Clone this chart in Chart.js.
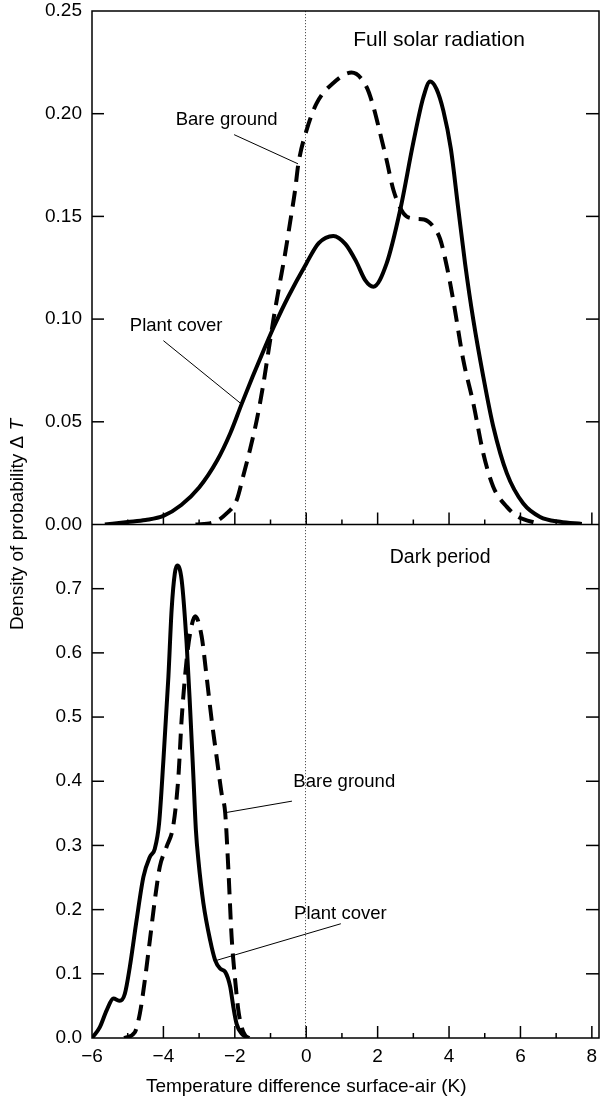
<!DOCTYPE html>
<html>
<head>
<meta charset="utf-8">
<script src="https://cdn.jsdelivr.net/npm/chart.js@4.4.1/dist/chart.umd.min.js"></script>
<style>
  html, body { margin: 0; padding: 0; background: #fff; }
  #wrap { width: 600px; height: 1102px; }
</style>
</head>
<body>
<div id="wrap"><canvas id="chart" width="600" height="1102"></canvas></div>
<script>
// Probability density of the surface-air temperature difference (K)

// Full solar radiation: plant cover
const solarPlantT = [-5.64, -5.0, -4.5, -4.0, -3.5, -3.0, -2.5, -2.13, -1.81, -1.5,
  -1.2, -0.9, -0.5, 0, 0.35, 0.76, 1.1, 1.4, 1.65, 1.88,
  2.25, 2.63, 3.0, 3.28, 3.47, 3.65, 3.84, 4.05, 4.25, 4.45,
  4.68, 4.96, 5.24, 5.62, 6.08, 6.55, 7.11, 7.72];
const solarPlantP = [0, 0.0012, 0.0022, 0.0042, 0.0095, 0.018, 0.031, 0.0443, 0.0586, 0.072,
  0.0845, 0.0965, 0.111, 0.127, 0.137, 0.1405, 0.1365, 0.128, 0.119, 0.1158,
  0.127, 0.153, 0.186, 0.208, 0.2157, 0.212, 0.2015, 0.183, 0.155, 0.127,
  0.0996, 0.0719, 0.0476, 0.0249, 0.0102, 0.0037, 0.0013, 0.0003];

// Full solar radiation: bare ground
const solarBareT = [-3.1, -2.6, -2.23, -1.95, -1.77, -1.57, -1.38, -1.21, -1.07, -0.93,
  -0.76, -0.59, -0.45, -0.31, -0.22, 0.01, 0.29, 0.76, 1.27, 1.69,
  1.88, 2.07, 2.25, 2.44, 2.72, 3.0, 3.3, 3.56, 3.75, 3.94,
  4.12, 4.40, 4.68, 4.96, 5.24, 5.62, 5.94, 6.5];
const solarBareP = [0, 0.001, 0.0054, 0.0118, 0.0232, 0.0368, 0.0513, 0.0674, 0.083, 0.0986,
  0.1156, 0.132, 0.1473, 0.163, 0.1756, 0.192, 0.205, 0.215, 0.220, 0.213,
  0.2035, 0.1905, 0.1775, 0.163, 0.1516, 0.149, 0.1485, 0.145, 0.139, 0.1255,
  0.109, 0.080, 0.059, 0.0346, 0.0183, 0.0086, 0.0037, 0.0005];

// Dark period: plant cover
const darkPlantT = [-6.0, -5.78, -5.59, -5.40, -5.22, -5.08, -4.94, -4.75, -4.56, -4.38,
  -4.24, -4.12, -4.0, -3.86, -3.77, -3.68, -3.61, -3.49, -3.35, -3.25,
  -3.16, -3.09, -3.02, -2.88, -2.69, -2.55, -2.41, -2.27, -2.13, -2.04,
  -1.95, -1.81, -1.67];
const darkPlantP = [0, 0.017, 0.043, 0.0615, 0.058, 0.069, 0.111, 0.184, 0.251, 0.282,
  0.295, 0.335, 0.433, 0.563, 0.667, 0.724, 0.736, 0.714, 0.615, 0.511,
  0.407, 0.324, 0.277, 0.21, 0.152, 0.121, 0.108, 0.103, 0.080, 0.048,
  0.022, 0.007, 0.001];

// Dark period: bare ground
const darkBareT = [-5.1, -4.8, -4.66, -4.52, -4.38, -4.24, -4.10, -3.91, -3.72, -3.58,
  -3.49, -3.35, -3.25, -3.11, -2.93, -2.79, -2.65, -2.51, -2.37, -2.27,
  -2.18, -2.09, -1.99, -1.90, -1.81, -1.71, -1.6];
const darkBareP = [0, 0.009, 0.038, 0.09, 0.152, 0.215, 0.267, 0.298, 0.332, 0.407,
  0.496, 0.589, 0.631, 0.657, 0.626, 0.563, 0.496, 0.438, 0.381, 0.351,
  0.262, 0.158, 0.09, 0.043, 0.017, 0.004, 0];

// Axis ticks
const xTickValues = [-6, -4, -2, 0, 2, 4, 6, 8];
const xTickLabels = ['\u22126', '\u22124', '\u22122', '0', '2', '4', '6', '8'];
const xMinorTickValues = [-5, -3, -1, 1, 3, 5, 7];
const topTickValues = [0, 0.05, 0.10, 0.15, 0.20, 0.25];
const topTickLabels = ['0.00', '0.05', '0.10', '0.15', '0.20', '0.25'];
const bottomTickValues = [0, 0.1, 0.2, 0.3, 0.4, 0.5, 0.6, 0.7];
const bottomTickLabels = ['0.0', '0.1', '0.2', '0.3', '0.4', '0.5', '0.6', '0.7'];

// Text
const panelTitles = ['Full solar radiation', 'Dark period'];
const seriesNames = ['Plant cover', 'Bare ground'];
const xTitle = 'Temperature difference surface-air (K)';
const yTitle = 'Density of probability \u0394';
const yTitleSymbol = 'T';

const FONT = '"Liberation Sans", Arial, Helvetica, sans-serif';

const pairs = (xs, ys) => xs.map((x, i) => ({ x, y: ys[i] }));

// Callouts, anchored in data coordinates of each panel
const callouts = [
  { axis: 'yTop', text: seriesNames[1], at: [-3.655, 0.1972], from: [-2.02, 0.1898], to: [-0.23, 0.1756] },
  { axis: 'yTop', text: seriesNames[0], at: [-4.94, 0.0965], from: [-4.00, 0.0895], to: [-1.81, 0.0586] },
  { axis: 'yBottom', text: seriesNames[1], at: [-0.36, 0.3994], from: [-0.40, 0.369], to: [-2.27, 0.351] },
  { axis: 'yBottom', text: seriesNames[0], at: [-0.34, 0.194], from: [0.97, 0.178], to: [-2.57, 0.120] }
];
const titles = [
  { axis: 'yTop', text: panelTitles[0], at: [3.72, 0.2356], size: 21 },
  { axis: 'yBottom', text: panelTitles[1], at: [3.75, 0.748], size: 19.5 }
];

const figurePlugin = {
  id: 'figureFrame',
  beforeDatasetsDraw(chart) {
    const { ctx, chartArea: a, scales } = chart;
    const x = scales.x;
    const panels = [[scales.yTop, topTickValues], [scales.yBottom, bottomTickValues]];
    const seg = (x1, y1, x2, y2) => { ctx.beginPath(); ctx.moveTo(x1, y1); ctx.lineTo(x2, y2); ctx.stroke(); };
    ctx.save();
    // dotted zero line through both panels
    const x0 = Math.round(x.getPixelForValue(0)) - 0.5;
    ctx.strokeStyle = '#555';
    ctx.lineWidth = 1;
    ctx.setLineDash([1.2, 1.8]);
    seg(x0, a.top, x0, a.bottom);
    ctx.setLineDash([]);
    // frame, panel divider and inward ticks
    ctx.strokeStyle = '#000';
    ctx.lineWidth = 1.5;
    ctx.strokeRect(a.left, a.top, a.right - a.left, a.bottom - a.top);
    seg(a.left, scales.yTop.bottom, a.right, scales.yTop.bottom);
    for (const [scale, values] of panels) {
      for (const v of values) {
        const py = scale.getPixelForValue(v);
        if (py <= scale.top + 1 || py >= scale.bottom - 1) continue;
        seg(a.left, py, a.left + 12, py);
        seg(a.right - 13, py, a.right, py);
      }
      for (const v of xTickValues) {
        const px = x.getPixelForValue(v);
        if (px <= a.left + 1 || px >= a.right - 1) continue;
        seg(px, scale.bottom, px, scale.bottom - 12);
      }
      for (const v of xMinorTickValues) {
        const px = x.getPixelForValue(v);
        seg(px, scale.bottom, px, scale.bottom - 5);
      }
    }
    ctx.restore();
  },
  afterDatasetsDraw(chart) {
    const { ctx, chartArea: a, scales } = chart;
    const x = scales.x;
    const pt = (axis, p) => [x.getPixelForValue(p[0]), scales[axis].getPixelForValue(p[1])];
    ctx.save();
    ctx.fillStyle = '#000';
    ctx.strokeStyle = '#000';
    // callouts with leader lines
    ctx.lineWidth = 1;
    ctx.font = '18.5px ' + FONT;
    ctx.textAlign = 'left';
    ctx.textBaseline = 'middle';
    for (const c of callouts) {
      const [tx, ty] = pt(c.axis, c.at);
      ctx.fillText(c.text, tx, ty);
      const [x1, y1] = pt(c.axis, c.from);
      const [x2, y2] = pt(c.axis, c.to);
      ctx.beginPath(); ctx.moveTo(x1, y1); ctx.lineTo(x2, y2); ctx.stroke();
    }
    // panel titles
    ctx.textAlign = 'center';
    for (const t of titles) {
      ctx.font = t.size + 'px ' + FONT;
      const [tx, ty] = pt(t.axis, t.at);
      ctx.fillText(t.text, tx, ty);
    }
    // x axis title, centred under the zero line
    ctx.font = '19px ' + FONT;
    ctx.fillText(xTitle, x.getPixelForValue(0), 1087);
    // y axis title spanning both panels
    ctx.translate(18, (a.top + a.bottom) / 2);
    ctx.rotate(-Math.PI / 2);
    const plain = '19px ' + FONT;
    const italic = 'italic 19px ' + FONT;
    ctx.font = plain;
    const w1 = ctx.measureText(yTitle + ' ').width;
    ctx.font = italic;
    const w2 = ctx.measureText(yTitleSymbol).width;
    const sx = -(w1 + w2) / 2;
    ctx.textAlign = 'left';
    ctx.font = plain;
    ctx.fillText(yTitle + ' ', sx, 0);
    ctx.font = italic;
    ctx.fillText(yTitleSymbol, sx + w1, 0);
    ctx.restore();
  }
};

const line = (axis, data, dashed) => ({
  data,
  yAxisID: axis,
  borderColor: '#000',
  borderWidth: 4,
  borderDash: dashed ? [16, 9] : [],
  borderCapStyle: 'butt',
  borderJoinStyle: 'round',
  pointRadius: 0,
  fill: false,
  cubicInterpolationMode: 'monotone'
});

const tickFont = { family: FONT, size: 19 };
const yScale = (min, max, values, labels, weight) => ({
  type: 'linear',
  position: 'left',
  stack: 'panels',
  stackWeight: 1,
  weight,
  min, max,
  afterBuildTicks: s => { s.ticks = values.map(v => ({ value: v })); },
  afterFit: s => { s.width = 92; s.paddingTop = 0; s.paddingBottom = 0; },
  grid: { display: false, drawTicks: false },
  border: { display: false },
  ticks: {
    font: tickFont, color: '#000', padding: 10, autoSkip: false,
    callback: v => labels[values.findIndex(t => Math.abs(t - v) < 1e-9)]
  }
});

new Chart(document.getElementById('chart'), {
  type: 'line',
  data: {
    datasets: [
      line('yTop', pairs(solarBareT, solarBareP), true),
      line('yTop', pairs(solarPlantT, solarPlantP), false),
      line('yBottom', pairs(darkBareT, darkBareP), true),
      line('yBottom', pairs(darkPlantT, darkPlantP), false)
    ]
  },
  options: {
    responsive: false,
    animation: false,
    devicePixelRatio: 1,
    events: [],
    layout: { padding: { top: 11, right: 1, left: 0, bottom: 0 } },
    plugins: { legend: { display: false }, tooltip: { enabled: false } },
    scales: {
      x: {
        type: 'linear',
        position: 'bottom',
        min: -6, max: 8.2,
        afterBuildTicks: s => { s.ticks = xTickValues.map(v => ({ value: v })); },
        afterFit: s => { s.height = 64; s.paddingLeft = 0; s.paddingRight = 0; },
        grid: { display: false, drawTicks: false },
        border: { display: false },
        ticks: {
          font: tickFont, color: '#000', padding: 7, maxRotation: 0, autoSkip: false,
          callback: v => xTickLabels[xTickValues.indexOf(v)]
        }
      },
      yTop: yScale(0, 0.25, topTickValues, topTickLabels, 2),
      yBottom: yScale(0, 0.8, bottomTickValues, bottomTickLabels, 1)
    }
  },
  plugins: [figurePlugin]
});
</script>
</body>
</html>
